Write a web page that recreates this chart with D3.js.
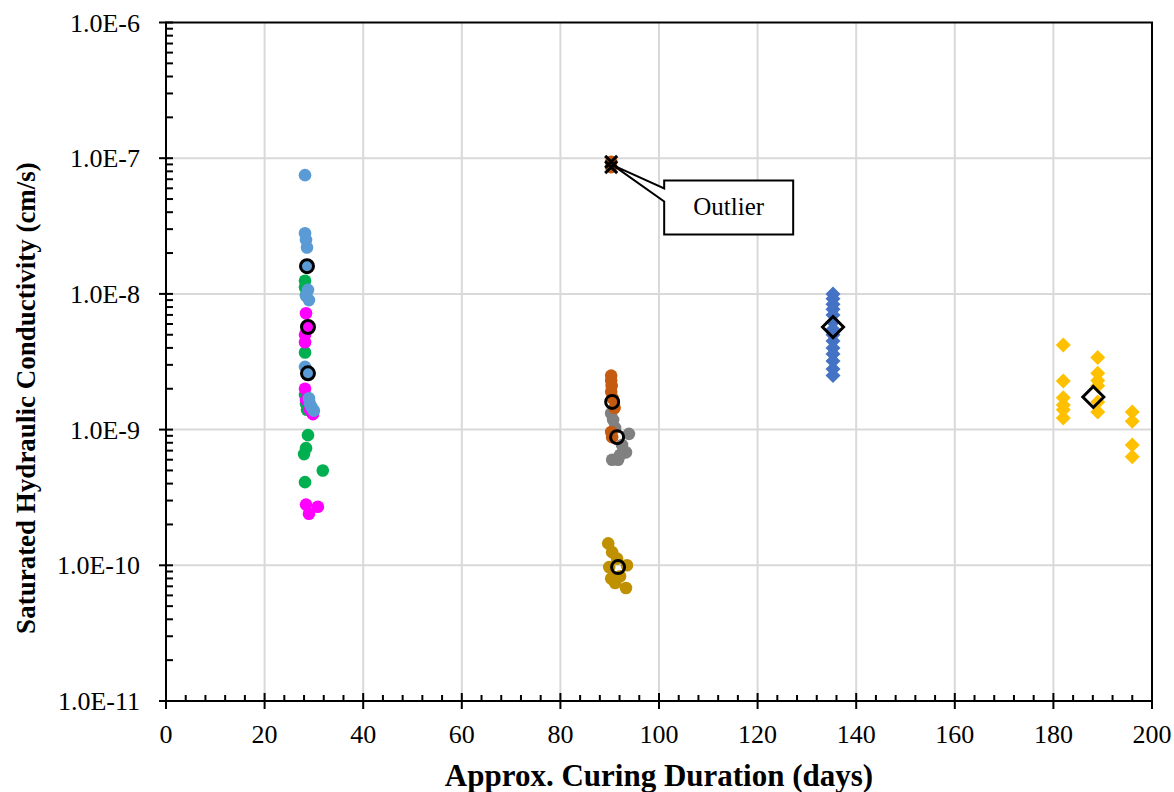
<!DOCTYPE html>
<html>
<head>
<meta charset="utf-8">
<script src="https://cdn.jsdelivr.net/npm/d3@7"></script>
<style>
  body { margin: 0; background: #fff; }
  text { font-family: "Liberation Serif", "Times New Roman", serif; }
</style>
</head>
<body>
<div id="chart"></div>
<script>
// ---- data (days, k in cm/s) ----
var blue28Days = [28.2, 28.2, 28.4, 28.6, 28.6, 28.8, 28.4, 29.0, 28.2, 28.6, 29.0, 29.2, 29.6, 30.0];
var blue28K = [7.5e-8, 2.8e-8, 2.5e-8, 2.2e-8, 1.6e-8, 1.07e-8, 9.7e-9, 9.0e-9, 2.9e-9, 2.6e-9, 1.7e-9, 1.55e-9, 1.45e-9, 1.38e-9];

var magenta28Days = [28.4, 28.6, 28.2, 28.2, 28.2, 28.4, 29.2, 29.8, 28.4, 30.8, 29.0];
var magenta28K = [7.2e-9, 5.7e-9, 5.0e-9, 4.4e-9, 2.0e-9, 1.65e-9, 1.4e-9, 1.3e-9, 2.8e-10, 2.7e-10, 2.4e-10];

var green28Days = [28.2, 28.2, 28.4, 28.2, 28.2, 28.4, 28.6, 28.8, 28.4, 28.0, 31.8, 28.2];
var green28K = [1.25e-8, 1.12e-8, 9.8e-9, 3.7e-9, 1.8e-9, 1.55e-9, 1.4e-9, 9.1e-10, 7.3e-10, 6.6e-10, 5.0e-10, 4.1e-10];

var orange90Days = [90.3, 90.3, 90.4, 90.3, 90.6, 91.0, 90.3, 90.5];
var orange90K = [2.5e-9, 2.3e-9, 2.1e-9, 1.9e-9, 1.7e-9, 1.45e-9, 9.6e-10, 8.8e-10];

var grey90Days = [90.3, 90.7, 91.1, 93.9, 92.5, 93.3, 92.1, 90.5, 91.7];
var grey90K = [1.32e-9, 1.18e-9, 1.03e-9, 9.3e-10, 7.7e-10, 6.8e-10, 6.5e-10, 6.0e-10, 6.0e-10];

var gold90Days = [89.7, 90.5, 91.5, 93.5, 89.9, 90.3, 91.1, 93.3, 92.1];
var gold90K = [1.45e-10, 1.25e-10, 1.12e-10, 1.0e-10, 9.7e-11, 8.0e-11, 7.4e-11, 6.8e-11, 8.3e-11];

var outlierDays = [90.3, 90.3];
var outlierK = [9.4e-8, 8.6e-8];

var blue135Days = [135.3, 135.3, 135.3, 135.3, 135.3, 135.3, 135.3, 135.3, 135.3, 135.3, 135.3, 135.3, 135.3, 135.3];
var blue135K = [1.0e-8, 9.2e-9, 8.4e-9, 7.7e-9, 7.0e-9, 6.2e-9, 5.5e-9, 5.0e-9, 4.5e-9, 4.0e-9, 3.6e-9, 3.2e-9, 2.8e-9, 2.5e-9];

var gold180Days = [182, 182, 182, 182, 182, 182, 189, 189, 189, 189, 189, 189, 196, 196, 196, 196];
var gold180K = [4.2e-9, 2.28e-9, 1.72e-9, 1.52e-9, 1.4e-9, 1.22e-9, 3.4e-9, 2.6e-9, 2.3e-9, 2.1e-9, 1.6e-9, 1.35e-9, 1.35e-9, 1.15e-9, 7.7e-10, 6.3e-10];

var avgCircleDays = [28.6, 28.8, 28.8, 90.5, 91.5, 91.7];
var avgCircleK = [1.6e-8, 5.7e-9, 2.6e-9, 1.6e-9, 8.8e-10, 9.7e-11];

var avgDiamondDays = [135.3, 188.1];
var avgDiamondK = [5.7e-9, 1.74e-9];

var xTicks = [0, 20, 40, 60, 80, 100, 120, 140, 160, 180, 200];
var yTicks = [1e-11, 1e-10, 1e-9, 1e-8, 1e-7, 1e-6];
var yTickLabels = ["1.0E-11", "1.0E-10", "1.0E-9", "1.0E-8", "1.0E-7", "1.0E-6"];

// ---- layout ----
var width = 1174;
var height = 792;
var plotLeft = 166, plotRight = 1152, plotTop = 22.5, plotBottom = 701;

var svg = d3.select("#chart").append("svg")
    .attr("width", width)
    .attr("height", height);

var x = d3.scaleLinear().domain([0, 200]).range([plotLeft, plotRight]);
var y = d3.scaleLog().domain([1e-11, 1e-6]).range([plotBottom, plotTop]);

/*****************  Grid **********************/
svg.selectAll(".vgrid")
    .data(xTicks.slice(1, -1))
    .enter().append("line")
    .attr("x1", function (d) { return x(d); })
    .attr("x2", function (d) { return x(d); })
    .attr("y1", plotTop).attr("y2", plotBottom)
    .style("stroke", "#d9d9d9").style("stroke-width", 2);

svg.selectAll(".hgrid")
    .data(yTicks.slice(1, -1))
    .enter().append("line")
    .attr("x1", plotLeft).attr("x2", plotRight)
    .attr("y1", function (d) { return y(d); })
    .attr("y2", function (d) { return y(d); })
    .style("stroke", "#d9d9d9").style("stroke-width", 2);

/*****************  Axes **********************/
var minorX = d3.range(0, 201, 4).filter(function (d) { return d % 20 != 0; });
svg.selectAll(".xminor")
    .data(minorX)
    .enter().append("line")
    .attr("x1", function (d) { return x(d); })
    .attr("x2", function (d) { return x(d); })
    .attr("y1", plotBottom - 6).attr("y2", plotBottom)
    .style("stroke", "#000").style("stroke-width", 2);

svg.selectAll(".xmajor")
    .data(xTicks)
    .enter().append("line")
    .attr("x1", function (d) { return x(d); })
    .attr("x2", function (d) { return x(d); })
    .attr("y1", plotBottom - 8).attr("y2", plotBottom + 8)
    .style("stroke", "#000").style("stroke-width", 2);

svg.selectAll(".xlabel")
    .data(xTicks)
    .enter().append("text")
    .attr("x", function (d) { return x(d); })
    .attr("y", 743)
    .attr("text-anchor", "middle")
    .style("font-size", "26px")
    .text(function (d) { return d; });

var minorY = [];
[-11, -10, -9, -8, -7].forEach(function (e) {
    for (var k = 2; k <= 9; k++) minorY.push(k * Math.pow(10, e));
});
svg.selectAll(".yminor")
    .data(minorY)
    .enter().append("line")
    .attr("x1", plotLeft).attr("x2", plotLeft + 7)
    .attr("y1", function (d) { return y(d); })
    .attr("y2", function (d) { return y(d); })
    .style("stroke", "#000").style("stroke-width", 2);

svg.selectAll(".ymajor")
    .data(yTicks)
    .enter().append("line")
    .attr("x1", plotLeft - 7).attr("x2", plotLeft + 7)
    .attr("y1", function (d) { return y(d); })
    .attr("y2", function (d) { return y(d); })
    .style("stroke", "#000").style("stroke-width", 2);

svg.selectAll(".ylabel")
    .data(yTicks)
    .enter().append("text")
    .attr("x", 140)
    .attr("y", function (d) { return y(d) + 9; })
    .attr("text-anchor", "end")
    .style("font-size", "26px")
    .text(function (d, i) { return yTickLabels[i]; });

// frame
svg.append("rect")
    .attr("x", plotLeft).attr("y", plotTop)
    .attr("width", plotRight - plotLeft).attr("height", plotBottom - plotTop)
    .style("fill", "none").style("stroke", "#000").style("stroke-width", 2);

svg.append("text")
    .attr("x", 659).attr("y", 786)
    .attr("text-anchor", "middle")
    .style("font-size", "31px").style("font-weight", "bold")
    .text("Approx. Curing Duration (days)");

svg.append("text")
    .attr("transform", "translate(35,398) rotate(-90)")
    .attr("text-anchor", "middle")
    .style("font-size", "27px").style("font-weight", "bold")
    .text("Saturated Hydraulic Conductivity (cm/s)");

/*****************  Points **********************/
function dots(days, ks, color) {
    svg.append("g").selectAll("circle")
        .data(ks)
        .enter().append("circle")
        .attr("cx", function (d, i) { return x(days[i]); })
        .attr("cy", function (d) { return y(d); })
        .attr("r", 6.3)
        .style("fill", color);
}

function diamonds(days, ks, color, half, stroke) {
    svg.append("g").selectAll("path")
        .data(ks)
        .enter().append("path")
        .attr("transform", function (d, i) { return "translate(" + x(days[i]) + "," + y(d) + ")"; })
        .attr("d", "M0," + (-half) + "L" + half + ",0L0," + half + "L" + (-half) + ",0Z")
        .style("fill", stroke ? "none" : color)
        .style("stroke", stroke ? color : "none")
        .style("stroke-width", stroke || 0);
}

dots(green28Days, green28K, "#00B050");
dots(magenta28Days, magenta28K, "#FF00FF");
dots(blue28Days, blue28K, "#5B9BD5");
dots(grey90Days, grey90K, "#808080");
dots(orange90Days, orange90K, "#C55A11");
dots(gold90Days, gold90K, "#BF9000");
dots(outlierDays, outlierK, "#C55A11");

// outlier crosses
svg.append("g").selectAll("path")
    .data(outlierK)
    .enter().append("path")
    .attr("transform", function (d, i) { return "translate(" + x(outlierDays[i]) + "," + y(d) + ")"; })
    .attr("d", "M-6,-6L6,6M-6,6L6,-6")
    .style("stroke", "#000").style("stroke-width", 3);

diamonds(blue135Days, blue135K, "#4472C4", 7.5, 0);
diamonds(gold180Days, gold180K, "#FFC000", 7.5, 0);

svg.append("g").selectAll("circle")
    .data(avgCircleK)
    .enter().append("circle")
    .attr("cx", function (d, i) { return x(avgCircleDays[i]); })
    .attr("cy", function (d) { return y(d); })
    .attr("r", 6.5)
    .style("fill", "none")
    .style("stroke", "#000")
    .style("stroke-width", 3);

diamonds(avgDiamondDays, avgDiamondK, "#000", 10.5, 3);

/*****************  Outlier callout **********************/
var ax = x(outlierDays[0]) + 2, ay = y(9e-8) + 1;
var bx = ax + 51, by = ay + 15, bw = 129, bh = 54;
svg.append("path")
    .attr("d", "M" + bx + "," + by + "H" + (bx + bw) + "V" + (by + bh) + "H" + bx +
        "V" + (by + 21) + "L" + ax + "," + ay + "L" + bx + "," + (by + 8) + "Z")
    .style("fill", "#fff").style("stroke", "#000").style("stroke-width", 2);
svg.append("text")
    .attr("x", bx + bw / 2).attr("y", by + bh / 2 + 8)
    .attr("text-anchor", "middle")
    .style("font-size", "25px")
    .text("Outlier");
</script>
</body>
</html>
